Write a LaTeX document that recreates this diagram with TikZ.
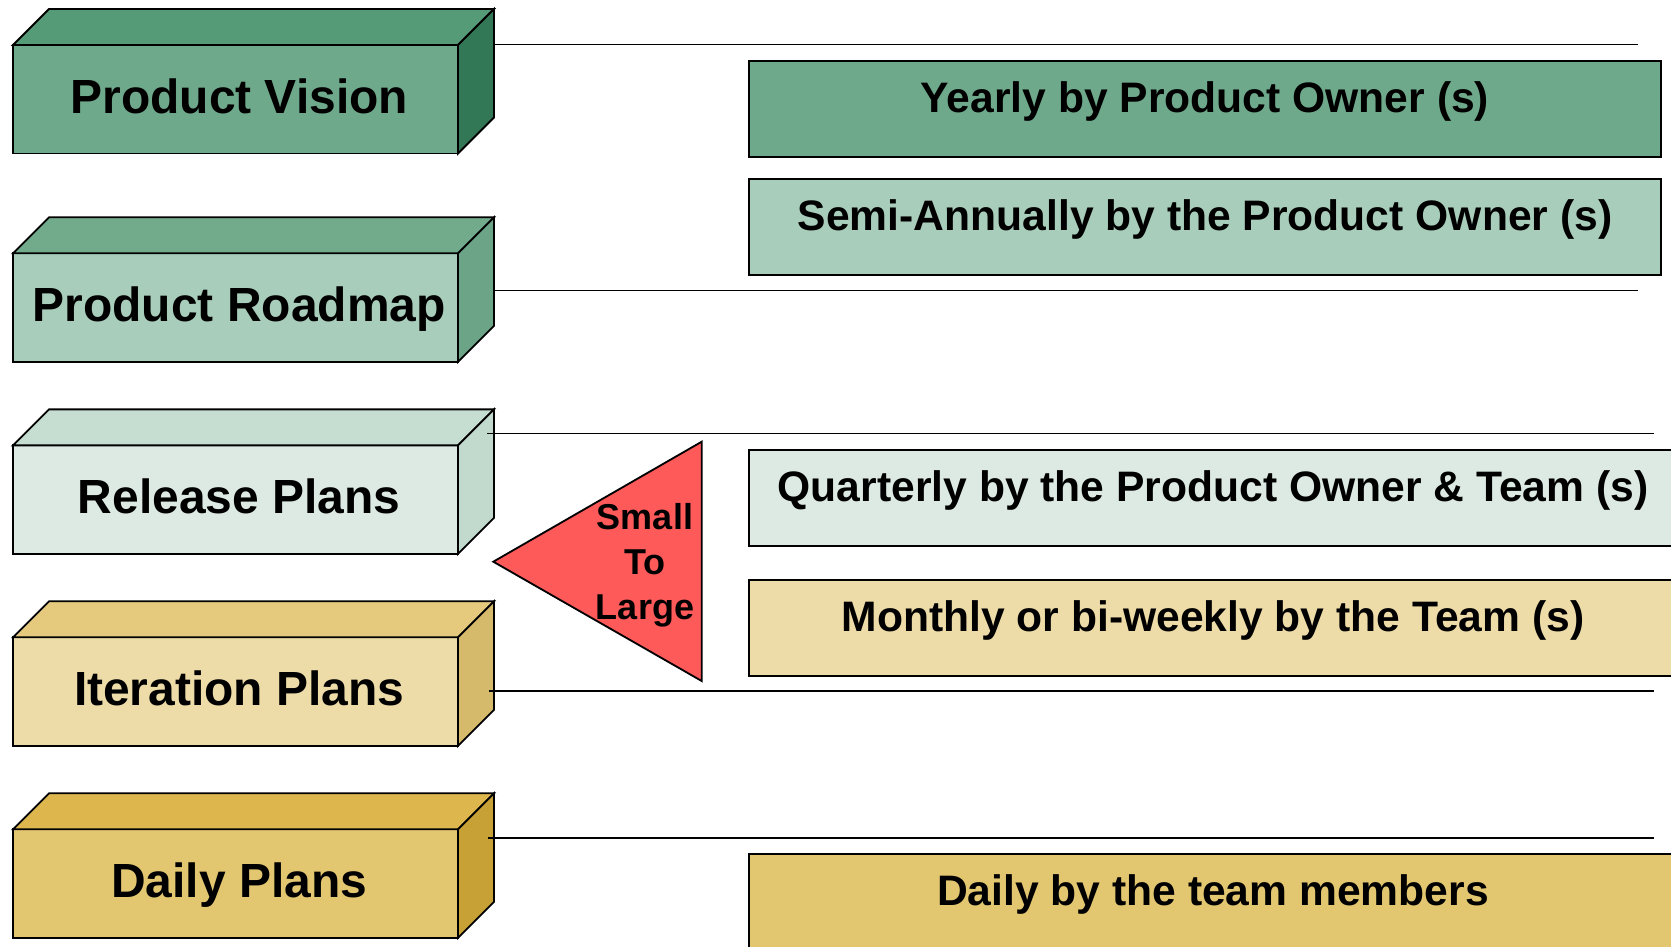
\documentclass[tikz,border=0pt]{standalone}
\usepackage{fontspec}
\setmainfont{Liberation Sans}
\usepackage{tikz}
\usetikzlibrary{positioning}
\usepackage{xcolor}
\definecolor{visionfront}{HTML}{6FA98B}
\definecolor{visiontop}{HTML}{559B77}
\definecolor{visionside}{HTML}{337856}
\definecolor{roadfront}{HTML}{A8CDBA}
\definecolor{roadtop}{HTML}{72AA8C}
\definecolor{roadside}{HTML}{6CA487}
\definecolor{releasefront}{HTML}{DCEAE3}
\definecolor{releasetop}{HTML}{C6DDD1}
\definecolor{releaseside}{HTML}{C2D9CD}
\definecolor{iterfront}{HTML}{EEDCA8}
\definecolor{itertop}{HTML}{E5CA7E}
\definecolor{iterside}{HTML}{D6BA6C}
\definecolor{dailyfront}{HTML}{E3C670}
\definecolor{dailytop}{HTML}{DDB64E}
\definecolor{dailyside}{HTML}{C7A036}
\definecolor{arrowred}{HTML}{FF5A5A}
\newdimen\px \px=0.025cm

\begin{document}
\begin{tikzpicture}[x=0.025cm, y=-0.025cm,
		face/.style={draw=black, line width=1.3pt},
		front/.style={face, outer sep=0pt, inner sep=0pt, minimum width=445\px, minimum height=108.5\px,
			text height=24.4pt, text depth=4.6pt, execute at begin node={\hspace*{5.3pt}},
			font=\fontsize{34.1}{40}\selectfont\bfseries},
		slot/.style={face, outer sep=0pt, inner sep=0pt, minimum width=912\px, minimum height=96\px,
			text height=21.7pt, text depth=16.9pt, font=\fontsize{30.3}{36}\selectfont\bfseries},
		wideslot/.style={slot, minimum width=928\px},
		rule/.style={line width=1.1pt}]
	\useasboundingbox (0,0) rectangle (1671,947);
	\clip (0,0) rectangle (1671,947);
	% left blocks
	\node[front, fill=visionfront] (vision) at (235.5, 99.25) {Product Vision};
	\draw[face, fill=visiontop] (vision.north west) -- ++(36,-36) -- ++(445,0) -- (vision.north east) -- cycle;
	\draw[face, fill=visionside] (vision.north east) -- ++(36,-36) -- ++(0,108.5) -- (vision.south east) -- cycle;
	\node[front, fill=roadfront] (roadmap) at (235.5, 307.55) {Product Roadmap};
	\draw[face, fill=roadtop] (roadmap.north west) -- ++(36,-36) -- ++(445,0) -- (roadmap.north east) -- cycle;
	\draw[face, fill=roadside] (roadmap.north east) -- ++(36,-36) -- ++(0,108.5) -- (roadmap.south east) -- cycle;
	\node[front, fill=releasefront] (release) at (235.5, 499.65) {Release Plans};
	\draw[face, fill=releasetop] (release.north west) -- ++(36,-36) -- ++(445,0) -- (release.north east) -- cycle;
	\draw[face, fill=releaseside] (release.north east) -- ++(36,-36) -- ++(0,108.5) -- (release.south east) -- cycle;
	\node[front, fill=iterfront] (iteration) at (235.5, 691.55) {Iteration Plans};
	\draw[face, fill=itertop] (iteration.north west) -- ++(36,-36) -- ++(445,0) -- (iteration.north east) -- cycle;
	\draw[face, fill=iterside] (iteration.north east) -- ++(36,-36) -- ++(0,108.5) -- (iteration.south east) -- cycle;
	\node[front, fill=dailyfront] (daily) at (235.5, 883.55) {Daily Plans};
	\draw[face, fill=dailytop] (daily.north west) -- ++(36,-36) -- ++(445,0) -- (daily.north east) -- cycle;
	\draw[face, fill=dailyside] (daily.north east) -- ++(36,-36) -- ++(0,108.5) -- (daily.south east) -- cycle;
	% separator lines
	\coordinate (visionA) at (494, 44.3);  \coordinate (visionB) at (1638, 44.3);
	\coordinate (roadA) at (494, 290.7);   \coordinate (roadB) at (1638, 290.7);
	\coordinate (releaseA) at (487, 433.3); \coordinate (releaseB) at (1654, 433.3);
	\coordinate (iterA) at (489, 691);     \coordinate (iterB) at (1654, 691);
	\coordinate (dailyA) at (488, 838);    \coordinate (dailyB) at (1654, 838);
	\draw[rule] (visionA) -- (visionB);
	\draw[rule] (roadA) -- (roadB);
	\draw[rule] (releaseA) -- (releaseB);
	\draw[rule] (iterA) -- (iterB);
	\draw[rule] (dailyA) -- (dailyB);
	% small to large
	\coordinate (tip) at (493.3, 561.7);
	\coordinate (basetop) at (701.7, 441.7);
	\coordinate (basebot) at (701.7, 681);
	\draw[face, fill=arrowred] (tip) -- (basetop) -- (basebot) -- cycle;
	\node[align=center, inner sep=0pt, font=\fontsize{25.6}{32}\selectfont\bfseries] (scale) at (645, 565) {Small\\To\\Large};
	% who plans and how often
	\node[slot, fill=visionfront] (yearly) at (1205, 108.65) {Yearly by Product Owner (s)};
	\node[slot, fill=roadfront] (semi) at (1205, 227) {Semi-Annually by the Product Owner (s)};
	\node[wideslot, fill=releasefront] (quarterly) at (1213, 497.65) {Quarterly by the Product Owner \& Team (s)};
	\node[wideslot, fill=iterfront] (monthly) at (1213, 627.65) {Monthly or bi-weekly by the Team (s)};
	\node[wideslot, fill=dailyfront] (members) at (1213, 902) {Daily by the team members};
\end{tikzpicture}
\end{document}
